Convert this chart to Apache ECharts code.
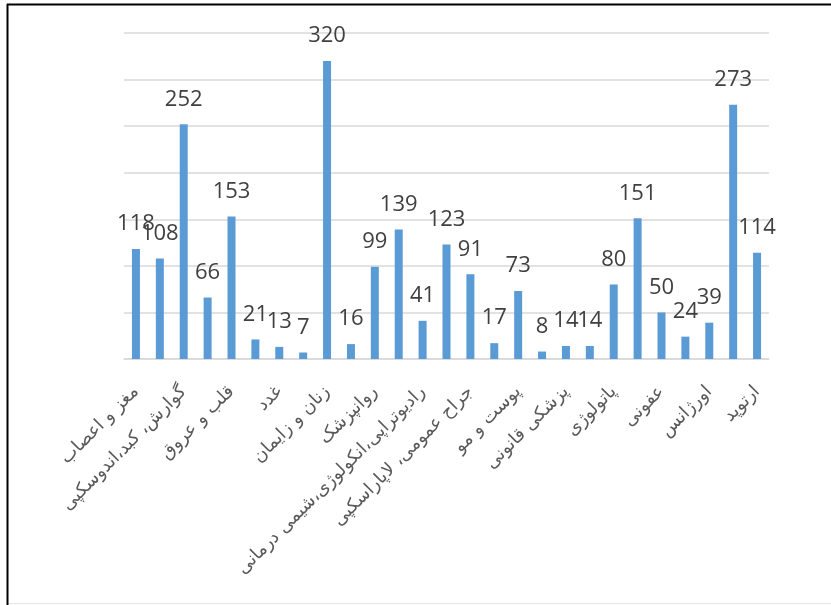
<!DOCTYPE html>
<html>
<head>
<meta charset="utf-8">
<script src="https://cdn.jsdelivr.net/npm/echarts@6/dist/echarts.min.js"></script>
<style>
  html, body { margin: 0; padding: 0; background: #fff; }
  #chart { width: 831px; height: 605px; }
</style>
</head>
<body>
<div id="chart"></div>
<script>
// only every other category name is printed on the axis; the hidden ones stay blank
const categories = [
  "مغز و اعصاب", "",
  "گوارش، کبد،اندوسکپی", "",
  "قلب و عروق", "",
  "غدد", "",
  "زنان و زایمان", "",
  "روانپزشک", "",
  "رادیوتراپی،انکولوژی،شیمی درمانی", "",
  "جراح عمومی، لاپاراسکپی", "",
  "پوست و مو", "",
  "پزشکی قانونی", "",
  "پاتولوژی", "",
  "عفونی", "",
  "اورژانس", "",
  "ارتوپد",
];
const counts = [118, 108, 252, 66, 153, 21, 13, 7, 320, 16, 99, 139, 41, 123, 91, 17, 73, 8, 14, 14, 80, 151, 50, 24, 39, 273, 114];

const BAR_COLOR = "#5B9BD5";
const GRID_COLOR = "#D9D9D9";

const chart = echarts.init(document.getElementById("chart"), null, { renderer: "canvas" });

chart.setOption({
  animation: false,
  backgroundColor: "#fff",
  grid: { left: 124, right: 62, top: 33, bottom: 246, containLabel: false },
  xAxis: {
    type: "category",
    data: categories,
    axisLine: { lineStyle: { color: GRID_COLOR, width: 1.5 } },
    axisTick: { show: false },
    axisLabel: {
      interval: 0,
      rotate: 45,
      margin: 30,
      color: "#595959",
      fontSize: 18,
      fontFamily: "DejaVu Sans",
    },
  },
  yAxis: {
    type: "value",
    min: 0,
    max: 350,
    interval: 50,
    axisLabel: { show: false },
    axisLine: { show: false },
    axisTick: { show: false },
    splitLine: { lineStyle: { color: GRID_COLOR, width: 1.5 } },
  },
  series: [
    {
      type: "bar",
      data: counts,
      barWidth: 8,
      itemStyle: { color: BAR_COLOR },
      label: {
        show: true,
        position: "top",
        distance: 14,
        color: "#404040",
        fontSize: 22,
        fontFamily: "Open Sans",
      },
    },
  ],
  graphic: [
    { type: "line", shape: { x1: 7, y1: 4.5, x2: 831, y2: 4.5 }, style: { stroke: "#000", lineWidth: 2 } },
    { type: "line", shape: { x1: 7.5, y1: 4, x2: 7.5, y2: 605 }, style: { stroke: "#000", lineWidth: 2 } },
    { type: "line", shape: { x1: 9, y1: 603.5, x2: 831, y2: 603.5 }, style: { stroke: "#E6E6E6", lineWidth: 1 } },
  ],
});
</script>
</body>
</html>
